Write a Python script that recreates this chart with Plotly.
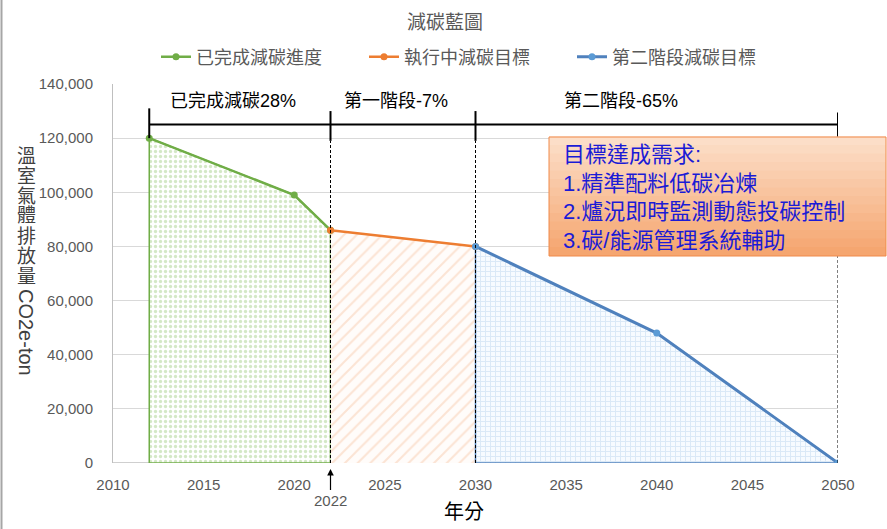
import plotly.graph_objects as go

# ---------------- data ----------------
done_years = [2012, 2020, 2022]
done_vals = [120000, 99000, 86000]
exec_years = [2022, 2030]
exec_vals = [86000, 80000]
stage2_years = [2030, 2040, 2050]
stage2_vals = [80000, 48000, 0]

series_names = ["已完成減碳進度", "執行中減碳目標", "第二階段減碳目標"]
stage_bounds = [2012, 2022, 2030, 2050]
stage_labels = ["已完成減碳28%", "第一階段-7%", "第二階段-65%"]
stage_label_x = [2016.6, 2025.6, 2038.0]
box_lines = ["目標達成需求:", "1.精準配料低碳冶煉", "2.爐況即時監測動態投碳控制", "3.碳/能源管理系統輔助"]
x_ticks = [2010, 2015, 2020, 2025, 2030, 2035, 2040, 2045, 2050]
y_ticks = [0, 20000, 40000, 60000, 80000, 100000, 120000, 140000]
y_title_chars = ["溫", "室", "氣", "體", "排", "放", "量"]

GREEN = "#70AD47"
ORANGE = "#ED7D31"
BLUE = "#4F81BD"
FONT = "Liberation Sans, Noto Sans CJK TC, sans-serif"
CJK = "Noto Sans CJK TC, sans-serif"

W, H = 887, 529
L, R, T, B = 113, 49, 84, 66
PW, PH = W - L - R, H - T - B


def px_x(px):
    return (px - L) / PW


def px_y(py):
    return (H - B - py) / PH


fig = go.Figure()

# ---- filled areas ----
fig.add_trace(go.Scatter(
    x=[done_years[0]] + done_years + [done_years[-1], done_years[0]],
    y=[0] + done_vals + [0, 0],
    mode="lines", fill="toself", showlegend=False, hoverinfo="skip",
    line=dict(color=GREEN, width=1.5),
    fillcolor="white",
    fillpattern=dict(shape=".", fgcolor="#A9D18E", bgcolor="white", size=5, solidity=0.35),
))
fig.add_trace(go.Scatter(
    x=exec_years + [exec_years[-1], exec_years[0], exec_years[0]],
    y=exec_vals + [0, 0, exec_vals[0]],
    mode="lines", fill="toself", showlegend=False, hoverinfo="skip",
    line=dict(color="rgba(0,0,0,0)", width=0),
    fillcolor="white",
    fillpattern=dict(shape="/", fgcolor="#F8CBAD", bgcolor="#FFFCFA", size=9, solidity=0.22),
))
fig.add_trace(go.Scatter(
    x=stage2_years + [stage2_years[0], stage2_years[0]],
    y=stage2_vals + [0, stage2_vals[0]],
    mode="lines", fill="toself", showlegend=False, hoverinfo="skip",
    line=dict(color=BLUE, width=1.5),
    fillcolor="white",
    fillpattern=dict(shape="+", fgcolor="#BDD7EE", bgcolor="#F7FBFF", size=5, solidity=0.35),
))

# ---- bracket shapes ----
shapes = []
tick_top = [131000, 130000, 130000, 129500]
tick_bot = [120000, 119000, 119000, 118500]
shapes.append(dict(type="line", xref="x", yref="y", x0=stage_bounds[0], x1=stage_bounds[-1],
                   y0=125000, y1=125000, line=dict(color="black", width=2)))
for i, xb in enumerate(stage_bounds):
    shapes.append(dict(type="line", xref="x", yref="y", x0=xb, x1=xb, y0=tick_bot[i], y1=tick_top[i],
                       line=dict(color="black", width=2)))
    if i > 0:
        shapes.append(dict(type="line", xref="x", yref="y", x0=xb, x1=xb, y0=0, y1=tick_bot[i],
                           line=dict(color="black", width=1, dash="3px,2px")))

# ---- gradient text box ----
bx0, bx1 = px_x(549), px_x(886)
by_top, by_bot = 137, 256
n = 14
c_top = (252, 222, 200)
c_bot = (245, 166, 112)
for k in range(n):
    t = k / (n - 1)
    col = tuple(int(round(c_top[j] + (c_bot[j] - c_top[j]) * t)) for j in range(3))
    y_a = by_top + (by_bot - by_top) * k / n
    y_b = by_top + (by_bot - by_top) * (k + 1) / n
    shapes.append(dict(type="rect", xref="paper", yref="paper", x0=bx0, x1=bx1,
                       y0=px_y(y_b), y1=px_y(y_a) + 0.001,
                       fillcolor="rgb(%d,%d,%d)" % col, line=dict(width=0), layer="above"))
shapes.append(dict(type="rect", xref="paper", yref="paper", x0=bx0, x1=bx1,
                   y0=px_y(by_bot), y1=px_y(by_top), fillcolor="rgba(0,0,0,0)",
                   line=dict(color="#F08A4B", width=1), layer="above"))
# outer frame left edge
shapes.append(dict(type="line", xref="paper", yref="paper", x0=px_x(1.5), x1=px_x(1.5),
                   y0=px_y(529), y1=px_y(0), line=dict(color="#A6A6A6", width=2)))

# ---- data lines ----
fig.add_trace(go.Scatter(x=done_years, y=done_vals, name=series_names[0], mode="lines+markers",
                         line=dict(color=GREEN, width=2.5), marker=dict(color=GREEN, size=7)))
fig.add_trace(go.Scatter(x=exec_years, y=exec_vals, name=series_names[1], mode="lines+markers",
                         line=dict(color=ORANGE, width=2.5), marker=dict(color=ORANGE, size=7)))
fig.add_trace(go.Scatter(x=stage2_years, y=stage2_vals, name=series_names[2], mode="lines+markers",
                         line=dict(color=BLUE, width=3), marker=dict(color="#5B9BD5", size=7)))


def pa(text, px, py, font, **kw):
    d = dict(text=text, xref="paper", yref="paper", x=px_x(px), y=px_y(py),
             xanchor="center", yanchor="middle", showarrow=False, font=font)
    d.update(kw)
    return d


# ---- annotations ----
ann = []
ann.append(pa("減碳藍圖", 445, 21, dict(family=CJK, size=19, color="#595959")))
for xl, tl in zip(stage_label_x, stage_labels):
    ann.append(dict(text=tl, xref="x", yref="paper", x=xl, y=px_y(101), showarrow=False,
                    xanchor="center", yanchor="middle",
                    font=dict(family=FONT, size=18, color="black")))
ann.append(pa("<br>".join(box_lines), 561, 197, dict(family=FONT, size=22, color="#1B1BD6"),
              xanchor="left", align="left"))
for i, ch in enumerate(y_title_chars):
    ann.append(pa(ch, 26, 154 + 20 * i, dict(family=CJK, size=19, color="#404040")))
ann.append(pa("CO2e-ton", 26, 332, dict(family=FONT, size=20, color="#404040"), textangle=90))
ann.append(pa("年分", 464, 510, dict(family=CJK, size=20, color="black")))
ann.append(dict(text="2022", xref="x", yref="paper", x=stage_bounds[1], y=px_y(469),
                showarrow=True, ax=0, ay=31, arrowhead=2, arrowsize=1.1, arrowwidth=1.2,
                arrowcolor="black", font=dict(family=FONT, size=15, color="#595959")))

fig.update_layout(
    width=W, height=H,
    margin=dict(l=L, r=R, t=T, b=B),
    paper_bgcolor="white", plot_bgcolor="white",
    font=dict(family=FONT, size=15, color="#595959"),
    showlegend=True,
    legend=dict(orientation="h", x=px_x(156), y=px_y(57), xanchor="left", yanchor="middle",
                font=dict(family=CJK, size=18, color="#595959"),
                entrywidth=163, entrywidthmode="pixels", bgcolor="rgba(0,0,0,0)"),
    shapes=shapes,
    annotations=ann,
    xaxis=dict(range=[2010, 2050], tickvals=x_ticks, ticktext=[str(v) for v in x_ticks],
               showgrid=False, zeroline=False, showline=False,
               tickfont=dict(family=FONT, size=15, color="#595959"),
               ticks="outside", ticklen=8, tickcolor="rgba(0,0,0,0)"),
    yaxis=dict(range=[0, 140000], tickvals=y_ticks, ticktext=["{:,}".format(v) for v in y_ticks],
               showgrid=True, gridcolor="#D9D9D9", gridwidth=1, zeroline=False,
               showline=True, linecolor="#BFBFBF", linewidth=1,
               tickfont=dict(family=FONT, size=15, color="#595959"),
               ticks="outside", ticklen=16, tickcolor="rgba(0,0,0,0)"),
)
# x axis baseline
fig.add_shape(type="line", xref="paper", yref="y", x0=0, x1=1, y0=0, y1=0,
              line=dict(color="#BFBFBF", width=1.5), layer="below")

fig.write_html("out.html")
